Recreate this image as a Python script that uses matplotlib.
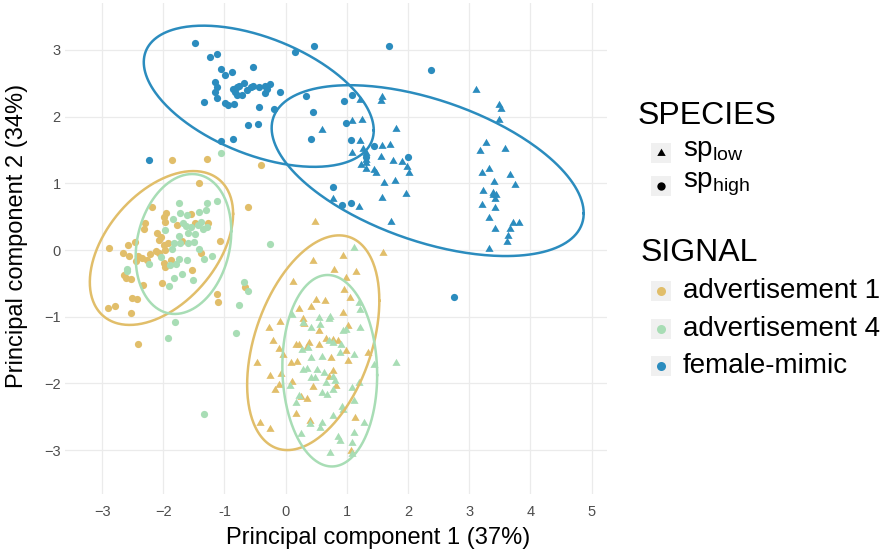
import numpy as np
import matplotlib
matplotlib.use("Agg")
import matplotlib.pyplot as plt
from matplotlib.lines import Line2D
from matplotlib.patches import Rectangle

plt.rcParams['font.family'] = ['Liberation Sans', 'DejaVu Sans']
plt.rcParams['mathtext.fontset'] = 'custom'
plt.rcParams['mathtext.rm'] = 'Liberation Sans'
plt.rcParams['mathtext.it'] = 'Liberation Sans:italic'

# --- data (PC1, PC2) per signal x species ---
adv1_high_x = [-1.85, -1.29, -0.40, -1.41, -0.62, -2.19, -2.30, -2.31, -1.99, -1.97, -1.96, -1.78, -1.54, -1.49,
               -1.27, -2.10, -2.03, -1.93, -2.07, -1.99, -1.69, -2.46, -2.58, -2.89, -2.66, -2.56, -2.41, -2.34,
               -2.27, -2.45, -2.21, -2.12, -2.07, -1.97, -1.99, -1.97, -1.87, -1.53, -1.38, -1.07, -2.65, -2.61,
               -2.52, -2.33, -2.02, -2.51, -2.43, -2.90, -2.79, -2.53, -1.13, -1.11, -0.67, -2.41]
adv1_high_y = [1.35, 1.36, 1.28, 1.01, 0.65, 0.64, 0.41, 0.31, 0.50, 0.42, 0.55, 0.37, 0.54, 0.41,
               0.41, 0.26, 0.19, 0.11, 0.15, 0.07, 0.14, 0.12, 0.07, 0.03, -0.04, -0.09, -0.09, -0.12,
               -0.15, -0.16, -0.06, -0.01, -0.04, 0.00, -0.20, -0.25, -0.15, -0.30, -0.05, 0.14, -0.37, -0.42,
               -0.43, -0.52, -0.49, -0.72, -0.73, -0.87, -0.84, -0.94, -0.66, -0.78, -0.55, -1.41]

adv4_high_x = [-1.05, -1.74, -1.28, -1.12, -1.41, -1.30, -1.84, -1.73, -1.61, -1.68, -1.63, -1.54, -1.44, -1.39,
               -1.35, -1.29, -1.98, -1.75, -1.49, -1.59, -1.82, -1.73, -1.59, -1.50, -1.85, -1.42, -1.61, -1.74,
               -1.79, -1.89, -2.03, -2.23, -1.33, -1.20, -1.70, -1.82, -1.90, -1.52, -2.59, -0.77, -0.68, -0.62,
               -1.81, -0.25, -0.82, -1.92, -1.33, -2.60]
adv4_high_y = [1.46, 0.70, 0.70, 0.73, 0.57, 0.60, 0.46, 0.55, 0.52, 0.40, 0.36, 0.34, 0.37, 0.42,
               0.31, 0.34, 0.30, 0.21, 0.24, 0.26, 0.11, 0.10, 0.11, 0.12, 0.01, 0.01, -0.15, -0.14,
               -0.21, -0.22, -0.11, -0.21, -0.14, -0.09, -0.36, -0.42, -0.54, -0.45, -0.28, -0.83, -0.48, -0.61,
               -1.08, 0.09, -1.25, -1.32, -2.46, -0.32]

fm_high_x = [-1.49, -1.24, -1.13, -1.05, -0.99, -0.88, -0.53, -1.16, -1.13, -1.16, -1.33, -1.13, -0.99, -0.94,
             -0.84, -0.86, -0.80, -0.76, -0.83, -0.79, -0.72, -0.68, -0.64, -0.57, -0.54, -0.43, -0.34, -0.26,
             -0.34, -0.30, -0.09, -0.43, -0.19, -0.62, -0.46, -1.06, -0.86, 0.15, 0.46, 0.33, 0.45, 0.42,
             1.69, 2.37, -2.23, 0.95, 1.09, 0.99, 1.07, 1.45, 2.00, 1.31, 0.78, 0.92, 1.07, 2.75]
fm_high_y = [3.10, 2.90, 2.94, 2.72, 2.63, 2.67, 2.75, 2.52, 2.44, 2.37, 2.22, 2.28, 2.20, 2.17,
             2.19, 2.42, 2.45, 2.46, 2.37, 2.32, 2.32, 2.51, 2.40, 2.44, 2.46, 2.45, 2.46, 2.49,
             2.35, 2.42, 2.37, 2.15, 2.11, 1.88, 1.89, 1.64, 1.67, 2.97, 3.06, 2.31, 2.07, 1.66,
             3.06, 2.70, 1.35, 2.24, 2.33, 1.91, 1.65, 1.56, 1.40, 1.39, 0.94, 0.67, 0.71, -0.70]

adv1_low_x = [0.48, 0.93, 1.59, 0.45, 0.79, 1.15, 0.12, 0.99, 0.96, 1.05, 0.50, 0.64, 0.21, 0.42,
              0.94, -0.27, -0.10, 0.29, 0.30, 0.54, 1.01, -0.20, 0.66, 0.77, 0.86, 0.17, 0.22, 0.38,
              0.34, 0.55, -0.11, -0.05, 0.99, 0.74, 1.01, 1.35, -0.47, 0.09, 0.19, -0.25, -0.07, 0.78,
              0.71, 0.10, -0.11, -0.17, 0.44, 0.83, 0.25, 0.34, 0.17, 0.40, 1.13, -0.42, -0.26, 1.07]
adv1_low_y = [0.42, -0.09, -0.04, -0.16, -0.30, -0.33, -0.48, -0.42, -0.60, -0.72, -0.75, -0.76, -0.89, -0.86,
              -0.95, -1.17, -1.08, -1.04, -1.11, -1.22, -1.14, -1.36, -1.34, -1.35, -1.36, -1.42, -1.42, -1.40,
              -1.46, -1.43, -1.49, -1.57, -1.52, -1.62, -1.67, -1.55, -1.70, -1.70, -1.68, -1.89, -1.86, -1.82,
              -1.91, -1.98, -2.02, -2.10, -2.06, -2.04, -2.21, -2.24, -2.46, -2.57, -2.52, -2.60, -2.69, -3.01]

adv4_low_x = [1.12, 1.19, 1.21, 0.11, 0.54, 0.72, 0.70, 0.29, 0.42, 0.56, 0.94, 0.99, 1.21, 0.37,
              0.26, 0.70, 0.78, 0.90, 0.88, 1.12, 0.41, 0.59, 0.28, 0.35, 0.51, 0.63, 0.41, 0.48,
              0.78, 0.80, 0.66, 0.07, 1.09, 1.19, 0.60, 0.68, 0.78, 0.21, 0.17, 1.12, 0.92, 0.94,
              0.77, 1.28, 0.59, 0.39, 0.56, 0.25, 1.12, 0.86, 0.89, 1.09, 0.72, 1.08, 1.45, 1.80]
adv4_low_y = [0.03, -0.80, -0.90, -0.97, -1.02, -1.01, -1.04, -1.10, -1.17, -1.12, -1.22, -1.20, -1.17, -1.47,
              -1.50, -1.36, -1.40, -1.42, -1.55, -1.57, -1.62, -1.61, -1.80, -1.79, -1.80, -1.85, -1.92, -1.92,
              -1.90, -1.97, -2.00, -2.04, -2.07, -2.00, -2.14, -2.17, -2.10, -2.19, -2.30, -2.27, -2.35, -2.40,
              -2.49, -2.59, -2.59, -2.61, -2.67, -2.76, -2.74, -2.80, -2.86, -2.90, -3.04, -3.06, -1.72, -1.69]

fm_low_x = [0.59, 1.58, 1.55, 1.21, 1.09, 1.24, 1.80, 1.21, 1.08, 1.26, 1.32, 1.31, 1.32, 1.23,
            1.58, 1.70, 1.56, 1.76, 1.90, 1.99, 2.02, 1.31, 1.44, 1.48, 1.61, 1.79, 1.97, 1.58,
            0.77, 1.20, 1.72, 3.11, 3.49, 3.52, 3.49, 3.27, 3.17, 3.59, 3.33, 3.21, 3.67, 3.41,
            3.75, 3.22, 3.39, 3.44, 3.38, 3.42, 3.21, 3.42, 3.32, 3.71, 3.81, 3.42, 3.67, 3.64, 3.62, 3.32]
fm_low_y = [1.80, 2.30, 2.23, 2.25, 1.94, 1.95, 1.81, 1.64, 1.46, 1.52, 1.46, 1.35, 1.31, 1.28,
            1.56, 1.57, 1.40, 1.33, 1.32, 1.24, 1.16, 1.21, 1.20, 1.16, 1.01, 1.04, 0.84, 0.78,
            0.76, 0.64, 0.42, 2.40, 2.18, 2.11, 1.95, 1.60, 1.49, 1.52, 1.21, 1.15, 1.13, 1.02,
            0.98, 0.89, 0.86, 0.82, 0.82, 0.76, 0.67, 0.63, 0.48, 0.41, 0.40, 0.31, 0.31, 0.21, 0.12, 0.01]

# 95% ellipses per group: centre and covariance-like shape (sxx, sxy, syy)
ell_groups = ['adv1_high', 'adv4_high', 'fm_high', 'adv1_low', 'adv4_low', 'fm_low']
ell_cx = [-2.03, -1.67, -0.44, 0.45, 0.72, 2.32]
ell_cy = [0.03, 0.09, 2.305, -1.39, -1.81, 1.19]
ell_sxx = [1.37, 0.61, 3.53, 1.166, 0.60, 6.50]
ell_sxy = [0.60, 0.15, -0.96, 0.68, -0.05, -1.63]
ell_syy = [1.33, 1.10, 1.12, 2.59, 2.06, 1.64]

signal_labels = ['advertisement 1', 'advertisement 4', 'female-mimic']
species_labels = [r'sp$_{\mathregular{low}}$', r'sp$_{\mathregular{high}}$']
x_ticks = [-3, -2, -1, 0, 1, 2, 3, 4, 5]
x_ticklabels = ['\u22123', '\u22122', '-1', '0', '1', '2', '3', '4', '5']
y_ticks = [-3, -2, -1, 0, 1, 2, 3]
y_ticklabels = ['\u22123', '\u22122', '\u22121', '0', '1', '2', '3']

col = {'adv1': '#E1BE6A', 'adv4': '#A8DDB5', 'fm': '#2B8CBE'}
tri = [(0, 1), (-0.866, -0.5), (0.866, -0.5)]

W, H = 890, 552
fig = plt.figure(figsize=(W / 100, H / 100), dpi=100)
ax = fig.add_axes([65 / W, 58 / H, 542 / W, 491 / H])
ax.set_xlim(-3.606, 5.25)
ax.set_ylim(-3.658, 3.703)
for s in ax.spines.values():
    s.set_visible(False)
ax.grid(True, color='#EBEBEB', lw=0.9)
ax.set_axisbelow(True)
ax.set_xticks(x_ticks)
ax.set_xticklabels(x_ticklabels)
ax.set_yticks(y_ticks)
ax.set_yticklabels(y_ticklabels)
ax.tick_params(length=0, labelsize=10.5, labelcolor='#4D4D4D')
ax.tick_params(axis='x', pad=8)
ax.tick_params(axis='y', pad=3)

groups = [
    (adv1_high_x, adv1_high_y, col['adv1'], 'o'),
    (adv4_high_x, adv4_high_y, col['adv4'], 'o'),
    (fm_high_x, fm_high_y, col['fm'], 'o'),
    (adv1_low_x, adv1_low_y, col['adv1'], tri),
    (adv4_low_x, adv4_low_y, col['adv4'], tri),
    (fm_low_x, fm_low_y, col['fm'], tri),
]
for gx, gy, c, m in groups:
    ax.scatter(gx, gy, s=(27 if m == 'o' else 46), marker=m, color=c, linewidths=0, zorder=3)

ell_cols = [col['adv1'], col['adv4'], col['fm'], col['adv1'], col['adv4'], col['fm']]
t = np.linspace(0, 2 * np.pi, 300)
for order in [0, 3, 1, 4, 2, 5]:
    S = np.array([[ell_sxx[order], ell_sxy[order]], [ell_sxy[order], ell_syy[order]]])
    L = np.linalg.cholesky(S)
    pts = L @ np.vstack([np.cos(t), np.sin(t)])
    ax.plot(ell_cx[order] + pts[0], ell_cy[order] + pts[1], color=ell_cols[order], lw=1.8, zorder=4)

fig.text(378 / W, 1 - 538 / H, 'Principal component 1 (37%)', ha='center', va='center', fontsize=17)
fig.text(17.5 / W, 1 - 236 / H, 'Principal component 2 (34%)', ha='center', va='center',
         fontsize=17, rotation=90)

# legends
def key(yc, marker, color, ms):
    fig.add_artist(Rectangle((651 / W, 1 - (yc + 10) / H), 20 / W, 20 / H,
                             transform=fig.transFigure, facecolor='#F0F0F0', edgecolor='none'))
    fig.add_artist(Line2D([661 / W], [1 - yc / H], transform=fig.transFigure, marker=marker,
                          color=color, markersize=ms, linestyle='none', markeredgewidth=0))

fig.text(638 / W, 1 - 116 / H, 'SPECIES', ha='left', va='center', fontsize=23)
for lab, yc, m in zip(species_labels, [153, 186], [tri, 'o']):
    key(yc, m, 'black', 7 if m != 'o' else 6)
    fig.text(683 / W, 1 - (yc - 2) / H, lab, ha='left', va='center', fontsize=20)

fig.text(641 / W, 1 - 253 / H, 'SIGNAL', ha='left', va='center', fontsize=23)
for lab, yc, c in zip(signal_labels, [291, 329, 366], [col['adv1'], col['adv4'], col['fm']]):
    key(yc, 'o', c, 6.5)
    fig.text(683 / W, 1 - yc / H, lab, ha='left', va='center', fontsize=20)

fig.savefig('out.png', dpi=100)
